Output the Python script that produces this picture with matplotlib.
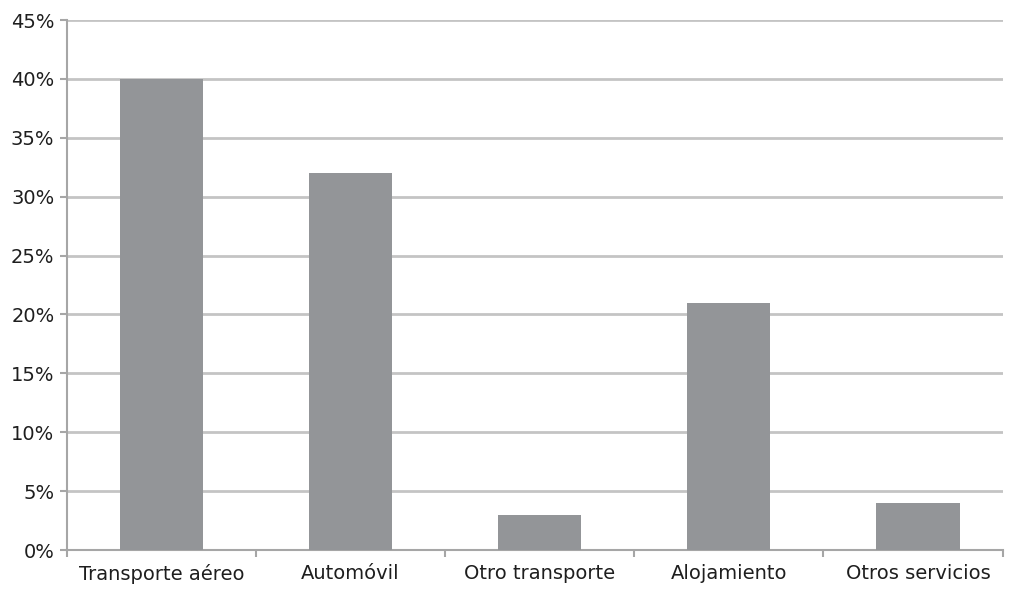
import matplotlib
matplotlib.use('Agg')
import matplotlib.pyplot as plt
import numpy as np
from matplotlib.ticker import FixedLocator

categorias = ['Transporte aéreo', 'Automóvil', 'Otro transporte', 'Alojamiento', 'Otros servicios']
valores = [40, 32, 3, 21, 4]
yticks = [0, 5, 10, 15, 20, 25, 30, 35, 40, 45]

plt.rcParams['font.family'] = ['DejaVu Sans']

fig = plt.figure(figsize=(10.24, 5.95), dpi=100)
ax = fig.add_axes([67/1024, 1 - 550/595, (1003 - 67)/1024, (550 - 20)/595])

x = np.arange(len(categorias))
ax.bar(x, valores, width=0.44, color='#939598', zorder=3)

# el eje termina un poco antes del final de la ultima categoria
ax.set_xlim(-0.5, len(categorias) - 0.55)
ax.set_ylim(0, 45)
ax.set_yticks(yticks)
ax.set_yticklabels([f'{v}%' for v in yticks])
ax.set_xticks(x)
ax.set_xticklabels(categorias)
ax.xaxis.set_minor_locator(FixedLocator(list(np.arange(len(categorias)) - 0.5) + [len(categorias) - 0.55]))

ax.yaxis.grid(True, color='#c4c4c4', linewidth=2, zorder=0)
for s in ['top', 'right']:
    ax.spines[s].set_visible(False)
for s in ['left', 'bottom']:
    ax.spines[s].set_color('#a6a6a6')
    ax.spines[s].set_linewidth(1.5)

ax.tick_params(axis='x', which='major', length=0, pad=10, labelsize=14, labelcolor='#1e1e1e')
ax.tick_params(axis='x', which='minor', length=5, width=1.5, color='#a6a6a6')
ax.tick_params(axis='y', length=5, width=1.5, color='#a6a6a6', pad=4, labelsize=14, labelcolor='#1e1e1e')

fig.savefig('out.png', dpi=100)
